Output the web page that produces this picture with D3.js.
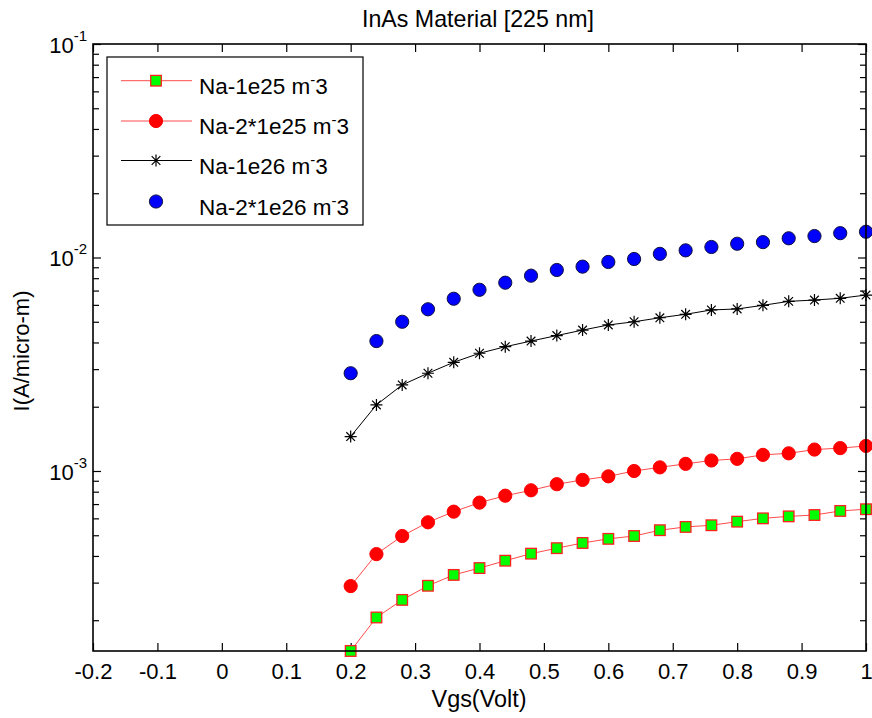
<!DOCTYPE html>
<html>
<head>
<meta charset="utf-8">
<script src="https://cdn.jsdelivr.net/npm/d3@7"></script>
<style>
  html, body { margin: 0; padding: 0; background: #fff; }
  text { font-family: "Liberation Sans", Arial, sans-serif; fill: #000; }
</style>
</head>
<body>
<svg id="chart" width="872" height="718"></svg>
<script>
// Gate voltage sweep (V)
const vgs = [0.20, 0.24, 0.28, 0.32, 0.36, 0.40, 0.44, 0.48, 0.52, 0.56, 0.60,
             0.64, 0.68, 0.72, 0.76, 0.80, 0.84, 0.88, 0.92, 0.96, 1.00];

// Drain current per micron, one array per doping level
const na1e25 = [1.435e-4, 2.06e-4, 2.49e-4, 2.90e-4, 3.26e-4, 3.51e-4, 3.80e-4, 4.10e-4, 4.35e-4, 4.60e-4, 4.81e-4,
                4.96e-4, 5.28e-4, 5.47e-4, 5.57e-4, 5.79e-4, 6.00e-4, 6.13e-4, 6.22e-4, 6.50e-4, 6.62e-4];
const na2e25 = [2.89e-4, 4.08e-4, 4.96e-4, 5.75e-4, 6.45e-4, 7.11e-4, 7.66e-4, 8.12e-4, 8.67e-4, 9.08e-4, 9.44e-4,
                1.00e-3, 1.04e-3, 1.08e-3, 1.12e-3, 1.14e-3, 1.19e-3, 1.21e-3, 1.26e-3, 1.28e-3, 1.31e-3];
const na1e26 = [1.45e-3, 2.04e-3, 2.53e-3, 2.87e-3, 3.23e-3, 3.56e-3, 3.82e-3, 4.06e-3, 4.31e-3, 4.57e-3, 4.83e-3,
                5.00e-3, 5.22e-3, 5.42e-3, 5.68e-3, 5.74e-3, 5.97e-3, 6.23e-3, 6.32e-3, 6.44e-3, 6.67e-3];
const na2e26 = [2.87e-3, 4.06e-3, 5.00e-3, 5.72e-3, 6.41e-3, 7.06e-3, 7.62e-3, 8.22e-3, 8.74e-3, 9.06e-3, 9.53e-3,
                9.84e-3, 1.04e-2, 1.08e-2, 1.12e-2, 1.16e-2, 1.18e-2, 1.23e-2, 1.26e-2, 1.30e-2, 1.32e-2];

const legendLabels = ["Na-1e25 m", "Na-2*1e25 m", "Na-1e26 m", "Na-2*1e26 m"];
const xTicks = [-0.2, -0.1, 0, 0.1, 0.2, 0.3, 0.4, 0.5, 0.6, 0.7, 0.8, 0.9, 1];
const xTickLabels = ["-0.2", "-0.1", "0", "0.1", "0.2", "0.3", "0.4", "0.5", "0.6", "0.7", "0.8", "0.9", "1"];
const yMajorExp = [-1, -2, -3];
const xDomain = [-0.2, 1];
const yDomain = [1.435e-4, 0.1];

const series = [
  { label: legendLabels[0], values: na1e25, line: true,  marker: "square",   fill: "#00ff00", stroke: "#ff2020", lineColor: "#ff4a4a" },
  { label: legendLabels[1], values: na2e25, line: true,  marker: "circle",   fill: "#ff0000", stroke: "#ff0000", lineColor: "#ff4a4a" },
  { label: legendLabels[2], values: na1e26, line: true,  marker: "asterisk", fill: "none",    stroke: "#000",    lineColor: "#000" },
  { label: legendLabels[3], values: na2e26, line: false, marker: "circle",   fill: "#0000ff", stroke: "#101040", lineColor: null }
];

const svg = d3.select("#chart");
const plot = { left: 93, right: 866, top: 44, bottom: 651 };

const x = d3.scaleLinear().domain(xDomain).range([plot.left, plot.right]);
const y = d3.scaleLog().domain(yDomain).range([plot.bottom, plot.top]);

// Scale a label's font so its rendered width equals the given span
function fitWidth(sel, width, base) {
  const w = sel.node().getComputedTextLength();
  if (w > 0) sel.style("font-size", (base * width / w).toFixed(2) + "px");
}

// Title
const title = svg.append("text")
  .attr("x", 478).attr("y", 27)
  .attr("text-anchor", "middle")
  .style("font-size", "22px")
  .text("InAs Material [225 nm]");
fitWidth(title, 232, 22);

// Axis ticks drawn inward on all four sides
const tickLen = 8, minorLen = 6;
const g = svg.append("g");

const xBottom = d3.axisBottom(x).tickValues(xTicks).tickSizeInner(-tickLen).tickSizeOuter(0)
  .tickFormat((d, i) => xTickLabels[i]);
g.append("g").attr("transform", `translate(0,${plot.bottom})`).call(xBottom)
  .call(s => s.select(".domain").remove())
  .call(s => s.selectAll("text").style("font-size", "22px").attr("dy", "0.71em").attr("y", 12));

const xTop = d3.axisTop(x).tickValues(xTicks).tickSizeInner(-tickLen).tickSizeOuter(0).tickFormat("");
g.append("g").attr("transform", `translate(0,${plot.top})`).call(xTop)
  .call(s => s.select(".domain").remove());

// Log minor ticks 2..9 within each decade inside the domain
const minorVals = [];
for (let e = -4; e <= -2; e++) {
  for (let m = 2; m <= 9; m++) {
    const v = m * Math.pow(10, e);
    if (v >= yDomain[0] && v <= yDomain[1]) minorVals.push(v);
  }
}
const majorVals = yMajorExp.map(e => Math.pow(10, e));

[[d3.axisLeft, plot.left], [d3.axisRight, plot.right]].forEach(([axFn, pos]) => {
  const major = axFn(y).tickValues(majorVals).tickSizeInner(-tickLen).tickSizeOuter(0).tickFormat("");
  g.append("g").attr("transform", `translate(${pos},0)`).call(major)
    .call(s => s.select(".domain").remove());
  const minor = axFn(y).tickValues(minorVals).tickSizeInner(-minorLen).tickSizeOuter(0).tickFormat("");
  g.append("g").attr("transform", `translate(${pos},0)`).call(minor)
    .call(s => s.select(".domain").remove());
});
g.selectAll(".tick line").attr("stroke", "#000").attr("stroke-width", 1.2);

// Y tick labels as 10 with a superscript exponent
yMajorExp.forEach(e => {
  const t = svg.append("text")
    .attr("x", plot.left - 6)
    .attr("y", y(Math.pow(10, e)) + 9)
    .attr("text-anchor", "end")
    .style("font-size", "22px");
  t.append("tspan").text("10");
  t.append("tspan").attr("dy", -12).style("font-size", "15px").text(String(e));
});

// Axis labels
const xLabel = svg.append("text")
  .attr("x", 479).attr("y", 707)
  .attr("text-anchor", "middle")
  .style("font-size", "22px")
  .text("Vgs(Volt)");
fitWidth(xLabel, 95, 22);
const yLabel = svg.append("text")
  .attr("transform", "translate(29,351) rotate(-90)")
  .attr("text-anchor", "middle")
  .style("font-size", "22px")
  .text("I(A/micro-m)");
fitWidth(yLabel, 121, 22);

// Marker drawing
function drawMarker(sel, s, cx, cy) {
  if (s.marker === "square") {
    sel.append("rect")
      .attr("x", cx - 5.3).attr("y", cy - 5.3).attr("width", 10.6).attr("height", 10.6)
      .attr("fill", s.fill).attr("stroke", s.stroke).attr("stroke-width", 1.3);
  } else if (s.marker === "circle") {
    sel.append("circle")
      .attr("cx", cx).attr("cy", cy).attr("r", 6.6)
      .attr("fill", s.fill).attr("stroke", s.stroke).attr("stroke-width", 1);
  } else if (s.marker === "asterisk") {
    const r = 6, d = r * 0.72;
    const p = `M${cx - r},${cy}L${cx + r},${cy}M${cx},${cy - r}L${cx},${cy + r}` +
              `M${cx - d},${cy - d}L${cx + d},${cy + d}M${cx - d},${cy + d}L${cx + d},${cy - d}`;
    sel.append("path").attr("d", p).attr("stroke", s.stroke).attr("stroke-width", 1.2).attr("fill", "none");
  }
}

// Series lines and markers
const dataG = svg.append("g");
const line = d3.line().x(d => x(d[0])).y(d => y(d[1]));
series.forEach(s => {
  const pts = vgs.map((v, i) => [v, s.values[i]]);
  if (s.line) {
    dataG.append("path").datum(pts)
      .attr("d", line)
      .attr("fill", "none")
      .attr("stroke", s.lineColor)
      .attr("stroke-width", 1);
  }
  const mg = dataG.append("g");
  pts.forEach(p => drawMarker(mg, s, x(p[0]), y(p[1])));
});

// Plot box
svg.append("rect")
  .attr("x", plot.left).attr("y", plot.top)
  .attr("width", plot.right - plot.left).attr("height", plot.bottom - plot.top)
  .attr("fill", "none").attr("stroke", "#000").attr("stroke-width", 1.6);

// Legend
const leg = { x0: 107, y0: 57, x1: 363, y1: 225 };
svg.append("rect")
  .attr("x", leg.x0).attr("y", leg.y0)
  .attr("width", leg.x1 - leg.x0).attr("height", leg.y1 - leg.y0)
  .attr("fill", "#fff").attr("stroke", "#000").attr("stroke-width", 1.2);
const rowY = [80.7, 121, 160.5, 201.5];
series.forEach((s, i) => {
  const ry = rowY[i];
  if (s.line) {
    svg.append("line").attr("x1", 121).attr("x2", 192).attr("y1", ry).attr("y2", ry)
      .attr("stroke", s.lineColor).attr("stroke-width", 1);
  }
  drawMarker(svg, s, 156, ry);
  const t = svg.append("text")
    .attr("x", 199).attr("y", ry + 13)
    .style("font-size", "22.5px");
  t.append("tspan").text(s.label);
  t.append("tspan").attr("dy", -9).style("font-size", "15px").text("-");
  t.append("tspan").attr("dy", 9).text("3");
});
</script>
</body>
</html>
